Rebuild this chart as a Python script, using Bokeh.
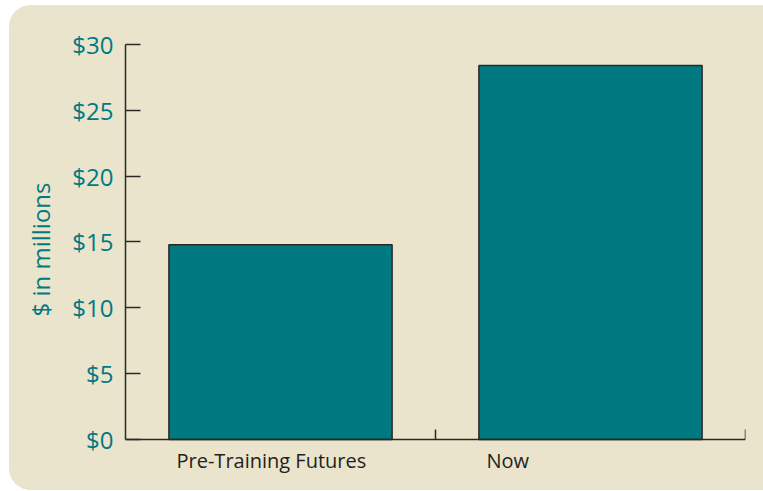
from bokeh.plotting import figure
from bokeh.models import Range1d, FixedTicker
from bokeh.core.properties import value
from bokeh.embed import file_html
from bokeh.resources import INLINE

categories = ["Pre-Training Futures", "Now"]
values = [14.8, 28.4]
y_ticks = [0, 5, 10, 15, 20, 25, 30]
y_tick_labels = ["$0", "$5", "$10", "$15", "$20", "$25", "$30"]

BEIGE = "#e9e4cb"
TEAL = "#007981"
DARK = "#2b2826"
FONT = "Open Sans"

xs = [i + 0.5 for i in range(len(categories))]

p = figure(width=754, height=485, output_backend="svg", toolbar_location=None,
           x_range=Range1d(0, len(categories)), y_range=Range1d(-3.494, 32.354),
           min_border_left=116, min_border_right=18, min_border_top=8, min_border_bottom=5)
p.styles = {"border-radius": "22px 0px 0px 22px", "overflow": "hidden",
            "margin-left": "9px", "margin-top": "5px", "background-color": BEIGE}
p.background_fill_color = BEIGE
p.border_fill_color = BEIGE
p.outline_line_color = None
p.grid.grid_line_color = None

p.vbar(x=xs, top=values, width=0.72, fill_color=TEAL,
       line_color=DARK, line_width=1.5)

# y axis
ya = p.yaxis[0]
ya.ticker = FixedTicker(ticks=y_ticks)
ya.bounds = (0, 30)
ya.major_label_overrides = {t: l for t, l in zip(y_ticks, y_tick_labels)}
ya.major_tick_in = 15
ya.major_tick_out = 0
ya.minor_tick_line_color = None
ya.axis_line_color = DARK
ya.axis_line_width = 1.5
ya.major_tick_line_color = DARK
ya.major_tick_line_width = 1.5
ya.major_label_text_color = TEAL
ya.major_label_text_font = FONT
ya.major_label_text_font_size = "24px"
ya.major_label_standoff = 12
ya.axis_label = "$ in millions"
ya.axis_label_text_color = TEAL
ya.axis_label_text_font = FONT
ya.axis_label_text_font_size = "24px"
ya.axis_label_text_font_style = "normal"
ya.axis_label_standoff = 12

# x axis, fixed at y = 0
xa = p.xaxis[0]
xa.fixed_location = 0
xa.ticker = FixedTicker(ticks=[1, 2])
xa.major_label_text_font_size = "0px"
xa.major_label_text_color = None
xa.major_tick_in = 10
xa.major_tick_out = 0
xa.minor_tick_line_color = None
xa.axis_line_color = DARK
xa.axis_line_width = 1.5
xa.major_tick_line_color = DARK
xa.major_tick_line_width = 1.5

p.text(x=xs, y=[0] * len(xs), text=categories, x_offset=-104, y_offset=8,
       text_align="left", text_baseline="top", text_font=value(FONT),
       text_font_size="20px", text_color="#231f20")

open("out.html", "w").write(file_html(p, INLINE))
